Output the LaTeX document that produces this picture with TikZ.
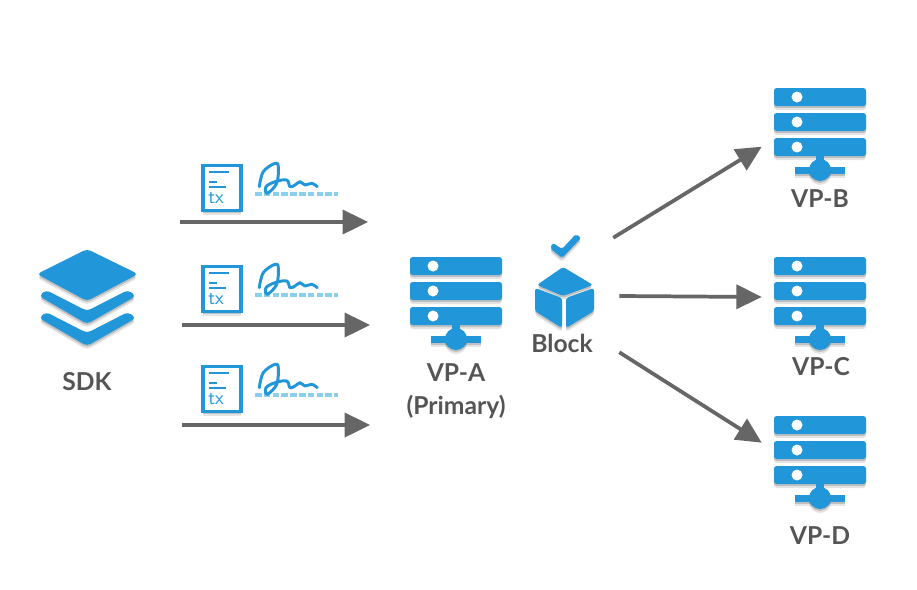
\documentclass[tikz,border=0pt]{standalone}
\usepackage{fontspec}
\setmainfont{Lato}
\usepackage{tikz}
\usetikzlibrary{arrows.meta,positioning,shadows}
\definecolor{iconblue}{HTML}{2196D9}
\definecolor{dashblue}{HTML}{8AD0EE}
\definecolor{flowgray}{HTML}{666666}
\definecolor{labelgray}{HTML}{555555}

\tikzset{
  softshadow/.style={
    drop shadow={shadow xshift=0pt,shadow yshift=-3pt,fill=black,opacity=.10},
    drop shadow={shadow xshift=0pt,shadow yshift=-1.5pt,fill=black,opacity=.16}},
  server/.pic={
    \node[minimum width=87pt,minimum height=87pt,inner sep=0pt] (-box) at (0,0) {};
    \fill[iconblue,rounded corners=2pt,softshadow] (-46,-48) rectangle (46,-30);
    \fill[iconblue,rounded corners=2pt,softshadow] (-46,-23) rectangle (46,-5);
    \fill[iconblue,rounded corners=2pt,softshadow] (-46,2) rectangle (46,20);
    \fill[white] (-23,-39) circle[radius=5.5];
    \fill[white] (-23,-14) circle[radius=5.5];
    \fill[white] (-23,11) circle[radius=5.5];
    \fill[iconblue,softshadow] (-25,30.5) rectangle (25,37.5);
    \fill[iconblue] (-4,20) rectangle (4,30);
    \fill[iconblue,softshadow] (0,34) circle[radius=11];
    \fill[iconblue] (-25,30.5) rectangle (25,37.5);
  },
  txsig/.pic={
    \draw[iconblue,line width=2.6pt,fill=white,softshadow] (-19,-22.5) rectangle (19,22.5);
    \draw[iconblue,line width=1.5pt] (-13,-16) -- (7,-16);
    \draw[iconblue,line width=1.5pt] (-13,-6) -- (-5,-6);
    \draw[iconblue,line width=1.5pt] (-13,-1) -- (4,-1);
    \node[text=iconblue,font=\sffamily\fontsize{14.5}{14.5}\selectfont,inner sep=0pt] (-name) at (-6,10) {tx};
    \draw[dashblue,line width=2.6pt,dash pattern=on 5pt off 1.6pt] (33,6) -- (116,6);
    \draw[iconblue,line width=2.2pt,line cap=round,line join=round] plot[smooth,tension=.6] coordinates {
      (37.3,-1.3) (41.3,-16.3) (53,-24.7) (56.3,-21.3) (54.7,-4.7) (45.3,5.3) (44,-1.3) (53,-6.3)
      (64.7,-8) (68,-1.3) (73,-3) (78,-6.3) (83,-3) (89.7,-4.7) (95.3,-1.3)};
  }
}

\begin{document}
\begin{tikzpicture}[x=.75pt,y=-.75pt,
        flow/.style={draw=flowgray,line width=2.8pt,-{Triangle[length=19pt,width=18pt]}},
        hostlabel/.style={text=labelgray,font=\bfseries\fontsize{18.5}{18.5}\selectfont,inner sep=0pt}]
        \useasboundingbox (0,0) rectangle (917,589);
        \fill[white] (0,0) rectangle (917,589);

        \node[minimum width=75pt,minimum height=75pt,inner sep=0pt] at (87,297) (sdk) {};
        \fill[iconblue,rounded corners=3pt,softshadow] (39,318) -- (46,312) -- (87,333) -- (128,312) -- (136,318) -- (87,346) -- cycle;
        \fill[iconblue,rounded corners=3pt,softshadow] (39,296) -- (46,290) -- (87,311) -- (128,290) -- (136,296) -- (87,324) -- cycle;
        \fill[iconblue,rounded corners=3pt,softshadow] (87,249) -- (138,274) -- (87,301) -- (37,274) -- cycle;
        \node[hostlabel] at (87,382) (sdklabel) {SDK};

        \pic (txa) at (222,188) {txsig};
        \pic (txb) at (222,289) {txsig};
        \pic (txc) at (222,389) {txsig};

        \coordinate (taila) at (180,222);
        \coordinate (heada) at (368,222);
        \coordinate (tailb) at (182,325);
        \coordinate (headb) at (370,325);
        \coordinate (tailc) at (182,425);
        \coordinate (headc) at (370,425);
        \draw[flow] (taila) -- (heada);
        \draw[flow] (tailb) -- (headb);
        \draw[flow] (tailc) -- (headc);

        \pic (vpa) at (456,305) {server};
        \node[hostlabel] at (456,373) (vpalabel) {VP-A};
        \node[hostlabel] at (456,407) (vpaprimary) {(Primary)};

        \node[minimum width=84pt,minimum height=87pt,inner sep=0pt] at (563,296) (block) {};
        \fill[iconblue,rounded corners=1.5pt,softshadow] (550,248) -- (553,243) -- (562,249) -- (576,234) -- (581,238) -- (562,258) -- cycle;
        \fill[iconblue,rounded corners=2pt,softshadow] (563,267) -- (593,285) -- (563,296) -- (537,285) -- cycle;
        \fill[iconblue,rounded corners=2pt,softshadow] (535,288) -- (562,298) -- (562,328) -- (535,311) -- cycle;
        \fill[iconblue,rounded corners=2pt,softshadow] (566,298) -- (594,288) -- (594,311) -- (566,328) -- cycle;
        \node[hostlabel] at (562,343) (blocklabel) {Block};

        \pic (vpb) at (820,136) {server};
        \pic (vpc) at (820,305) {server};
        \pic (vpd) at (820,464) {server};
        \node[hostlabel] at (820,199) (vpblabel) {VP-B};
        \node[hostlabel] at (821,367) (vpclabel) {VP-C};
        \node[hostlabel] at (820,536) (vpdlabel) {VP-D};

        \draw[flow] ([xshift=-4.5pt]block.north east) -- ([yshift=-8pt]vpb-box.west);
        \draw[flow] (block.east) -- ([yshift=6pt]vpc-box.west);
        \draw[flow] ([yshift=1.5pt]block.south east) -- ([yshift=16pt]vpd-box.west);
\end{tikzpicture}
\end{document}
